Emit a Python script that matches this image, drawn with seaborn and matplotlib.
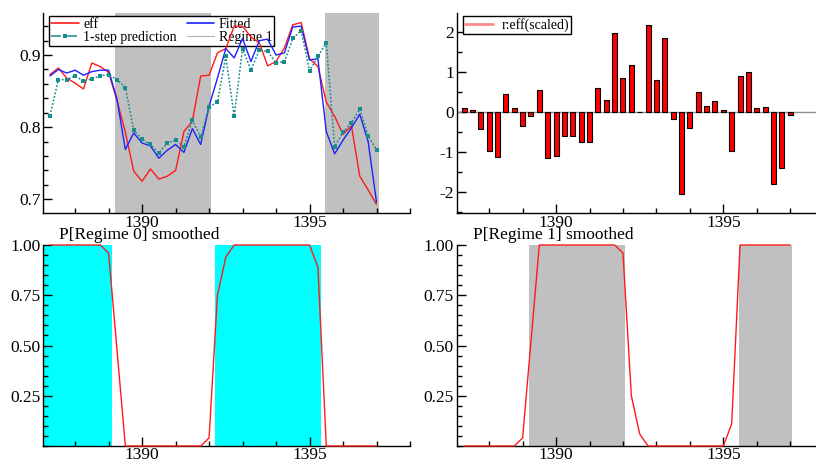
import matplotlib
matplotlib.use("Agg")
import matplotlib.pyplot as plt
from matplotlib.lines import Line2D
from matplotlib.ticker import MultipleLocator, FixedLocator, FormatStrFormatter
import seaborn as sns

sns.set_theme(style="ticks")
plt.rcParams["font.family"] = ["Liberation Serif", "DejaVu Serif"]
plt.rcParams.update({
    "text.color": "black", "axes.labelcolor": "black",
    "xtick.color": "black", "ytick.color": "black",
    "axes.edgecolor": "black", "axes.linewidth": 1.0,
})

# quarterly observations, 1387(2) .. 1397(1)
quarters = [
    1387.25, 1387.50, 1387.75, 1388.00, 1388.25, 1388.50, 1388.75, 1389.00,
    1389.25, 1389.50, 1389.75, 1390.00, 1390.25, 1390.50, 1390.75, 1391.00,
    1391.25, 1391.50, 1391.75, 1392.00, 1392.25, 1392.50, 1392.75, 1393.00,
    1393.25, 1393.50, 1393.75, 1394.00, 1394.25, 1394.50, 1394.75, 1395.00,
    1395.25, 1395.50, 1395.75, 1396.00, 1396.25, 1396.50, 1396.75, 1397.00,
]
eff = [
    0.873, 0.882, 0.868, 0.861, 0.853, 0.889, 0.884, 0.876,
    0.837, 0.793, 0.739, 0.725, 0.742, 0.728, 0.732, 0.740,
    0.794, 0.808, 0.871, 0.872, 0.903, 0.909, 0.940, 0.940,
    0.925, 0.917, 0.885, 0.891, 0.910, 0.942, 0.945, 0.895,
    0.884, 0.835, 0.815, 0.790, 0.802, 0.732, 0.713, 0.693,
]
fitted = [
    0.871, 0.880, 0.875, 0.879, 0.872, 0.877, 0.879, 0.879,
    0.839, 0.769, 0.792, 0.778, 0.774, 0.757, 0.768, 0.776,
    0.765, 0.798, 0.776, 0.829, 0.868, 0.909, 0.896, 0.923,
    0.891, 0.920, 0.922, 0.900, 0.903, 0.939, 0.940, 0.893,
    0.895, 0.794, 0.763, 0.782, 0.799, 0.818, 0.780, 0.696,
]
prediction = [
    0.816, 0.866, 0.866, 0.871, 0.864, 0.867, 0.871, 0.873,
    0.866, 0.855, 0.796, 0.783, 0.776, 0.764, 0.778, 0.782,
    0.773, 0.810, 0.786, 0.828, 0.835, 0.898, 0.815, 0.909,
    0.879, 0.907, 0.905, 0.889, 0.891, 0.923, 0.934, 0.878,
    0.898, 0.917, 0.773, 0.793, 0.806, 0.825, 0.788, 0.768,
]
resid_scaled = [
    0.12, 0.06, -0.42, -0.97, -1.12, 0.45, 0.10, -0.33, -0.10, 0.55,
    -1.13, -1.08, -0.58, -0.60, -0.74, -0.74, 0.60, 0.31, 1.98, 0.85,
    1.18, 0.02, 2.18, 0.80, 1.87, -0.17, -2.05, -0.38, 0.50, 0.15,
    0.28, 0.06, -0.97, 0.91, 1.00, 0.12, 0.14, -1.80, -1.40, -0.06,
]
p_regime0 = [
    1.00, 1.00, 1.00, 1.00, 1.00, 1.00, 1.00, 0.96, 0.48, 0.00,
    0.00, 0.00, 0.00, 0.00, 0.00, 0.00, 0.00, 0.00, 0.00, 0.04,
    0.75, 0.94, 1.00, 1.00, 1.00, 1.00, 1.00, 1.00, 1.00, 1.00,
    1.00, 1.00, 0.89, 0.00, 0.00, 0.00, 0.00, 0.00, 0.00, 0.00,
]
p_regime1 = [
    0.00, 0.00, 0.00, 0.00, 0.00, 0.00, 0.00, 0.04, 0.52, 1.00,
    1.00, 1.00, 1.00, 1.00, 1.00, 1.00, 1.00, 1.00, 1.00, 0.96,
    0.25, 0.06, 0.00, 0.00, 0.00, 0.00, 0.00, 0.00, 0.00, 0.00,
    0.00, 0.00, 0.11, 1.00, 1.00, 1.00, 1.00, 1.00, 1.00, 1.00,
]
regime0_spans = [(1387.0, 1389.09), (1392.19, 1395.33)]
regime1_spans = [(1389.20, 1392.06), (1395.46, 1397.06)]

RED = "#ff1a1a"
BLUE = "#2020ff"
TEAL = "#168c8c"
GREY = "#c0c0c0"
CYAN = "#00ffff"

W, H = 816, 462
fig = plt.figure(figsize=(W / 100, H / 100), dpi=100)


def px_axes(left, top, right, bottom):
    return fig.add_axes([left / W, 1 - bottom / H, (right - left) / W, (bottom - top) / H])


def style_axes(ax, xlim):
    sns.despine(ax=ax)
    ax.set_xlim(*xlim)
    ax.xaxis.set_major_locator(FixedLocator([1390, 1395]))
    ax.xaxis.set_minor_locator(MultipleLocator(1))
    ax.xaxis.set_major_formatter(FormatStrFormatter("%d"))
    ax.tick_params(which="both", direction="in", labelsize=12.5, width=1)
    ax.tick_params(which="major", length=6.5, pad=2)
    ax.tick_params(axis="x", which="major", pad=1)
    ax.tick_params(which="minor", length=3.5)
    ax.set_xlabel("")
    ax.set_ylabel("")


# top left: actual, fitted, prediction
ax1 = px_axes(43.3, 12.7, 410, 213.3)
for a, b in regime1_spans:
    ax1.axvspan(a, b, color=GREY, lw=0, zorder=0.5)
sns.lineplot(x=quarters, y=eff, ax=ax1, color=RED, linewidth=1.0, zorder=3)
sns.lineplot(x=quarters, y=fitted, ax=ax1, color=BLUE, linewidth=1.0, zorder=3)
sns.lineplot(x=quarters, y=prediction, ax=ax1, color=TEAL, linewidth=1.1,
             linestyle=(0, (1.2, 1.2)), marker="s", markersize=3, markeredgewidth=0, zorder=3)
style_axes(ax1, (1387.05, 1398.0))
ax1.set_ylim(0.6806, 0.9587)
ax1.yaxis.set_major_locator(MultipleLocator(0.1))
ax1.yaxis.set_minor_locator(MultipleLocator(0.02))
ax1.yaxis.set_major_formatter(FormatStrFormatter("%.1f"))
handles = [
    Line2D([], [], color=RED, lw=1.2),
    Line2D([], [], color=TEAL, lw=1.1, ls="-.", marker="s", markersize=3, markeredgewidth=0),
    Line2D([], [], color=BLUE, lw=1.2),
    Line2D([], [], color="#b0b0b0", lw=0.8),
]
labels = ["eff", "1-step prediction", "Fitted", "Regime 1"]
leg = ax1.legend(handles, labels, ncol=2, loc="upper left",
                 bbox_to_anchor=(6 / 366.7, 1 - 3 / 200.6), borderaxespad=0,
                 fancybox=False, framealpha=1, edgecolor="black", fontsize=10,
                 handlelength=2.0, handletextpad=0.3, columnspacing=0.7,
                 labelspacing=0.0, borderpad=0.15)
leg.get_frame().set_linewidth(1.0)
leg.set_zorder(1.5)

# top right: scaled residuals
ax2 = px_axes(456.7, 12.7, 816, 213.3)
ax2.axhline(0, color="#909090", lw=1.0, zorder=1)
sns.barplot(x=quarters, y=resid_scaled, ax=ax2, native_scale=True, width=0.6,
            color="red", saturation=1, edgecolor="black", linewidth=0.8,
            errorbar=None, zorder=2)
style_axes(ax2, (1387.03, 1397.77))
ax2.set_ylim(-2.525, 2.49)
ax2.yaxis.set_major_locator(MultipleLocator(1))
ax2.yaxis.set_minor_locator(MultipleLocator(0.5))
ax2.yaxis.set_major_formatter(FormatStrFormatter("%d"))
leg2 = ax2.legend([Line2D([], [], color="#ff8a8a", lw=2)], ["r:eff(scaled)"],
                  loc="upper left", bbox_to_anchor=(6.3 / 359.3, 1 - 3.3 / 200.6),
                  borderaxespad=0, fancybox=False, framealpha=1, edgecolor="black",
                  fontsize=10, handlelength=2.0, handletextpad=0.6, borderpad=0.15)
leg2.get_frame().set_linewidth(1.0)

# bottom: smoothed regime probabilities
panels = [
    (px_axes(43.3, 245, 410, 446), p_regime0, regime0_spans, CYAN,
     "P[Regime 0] smoothed", (1387.05, 1398.0), 16 / 366.7),
    (px_axes(456.7, 245, 816, 446), p_regime1, regime1_spans, GREY,
     "P[Regime 1] smoothed", (1387.03, 1397.77), 16.6 / 359.3),
]
for ax, prob, spans, shade, title, xlim, tx in panels:
    for a, b in spans:
        ax.axvspan(a, b, color=shade, lw=0, zorder=0.5)
    sns.lineplot(x=quarters, y=prob, ax=ax, color=RED, linewidth=1.0, zorder=3, clip_on=False)
    style_axes(ax, xlim)
    ax.set_ylim(0, 1.0)
    ax.yaxis.set_major_locator(FixedLocator([0.25, 0.5, 0.75, 1.0]))
    ax.yaxis.set_minor_locator(MultipleLocator(0.05))
    ax.yaxis.set_major_formatter(FormatStrFormatter("%.2f"))
    ax.text(tx, 1.008, title, transform=ax.transAxes, fontsize=12.5,
            ha="left", va="bottom")

fig.savefig("out.png", dpi=100)
